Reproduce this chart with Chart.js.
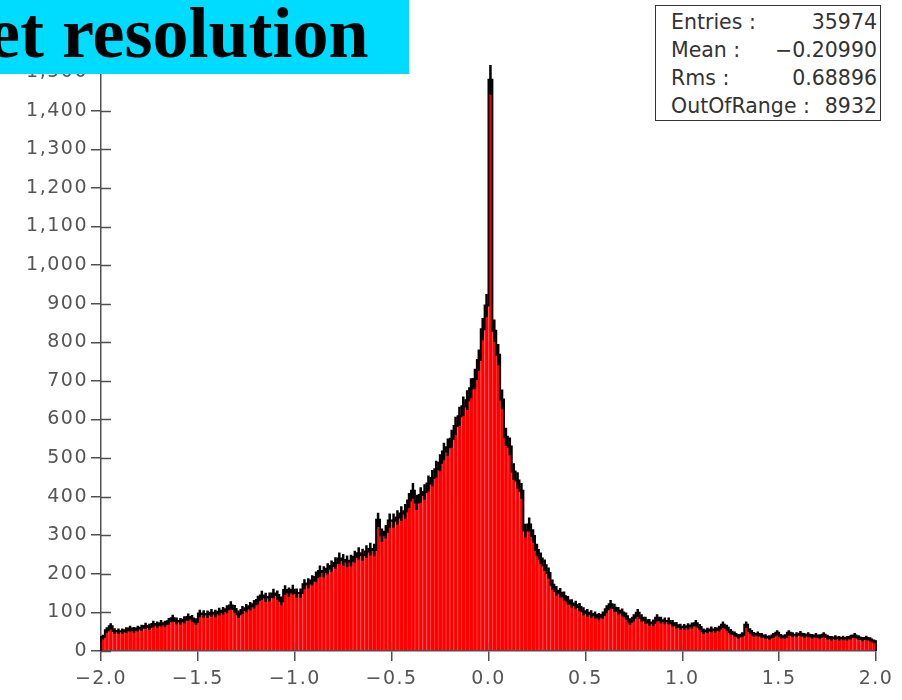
<!DOCTYPE html>
<html>
<head>
<meta charset="utf-8">
<script src="https://cdn.jsdelivr.net/npm/chart.js@4.4.1/dist/chart.umd.min.js"></script>
<style>
html, body { margin: 0; padding: 0; background: #fff; }
#wrap { position: relative; width: 902px; height: 700px; overflow: hidden; }
#title { position: absolute; left: 0; top: 0; width: 409px; height: 74px; background: #00dcff; overflow: hidden; }
#title span { position: absolute; left: -12px; top: -4px; font: bold 72px "Liberation Serif", serif; line-height: 74px; white-space: nowrap; color: #000; }
#stats { position: absolute; left: 655px; top: 5px; width: 224px; height: 114px; border: 1.5px solid #333; background: #fff;
         font: 20.5px "DejaVu Sans", sans-serif; color: #333; }
.row { position: absolute; left: 15px; right: 3px; height: 28px; line-height: 28px; display: flex; justify-content: space-between; }
</style>
</head>
<body>
<div id="wrap">
  <canvas id="hist" width="902" height="700"></canvas>
  <div id="title"><span>et resolution</span></div>
  <div id="stats"></div>
</div>
<script>
// histogram: 200 bins of 0.02 from -2.0 to 2.0
const binLow = -2.0;
const binWidth = 0.02;
const counts = [
  36, 54, 64, 52, 51, 51, 54, 58, 55, 58,
  60, 65, 63, 70, 68, 72, 70, 77, 85, 78,
  77, 81, 88, 84, 76, 97, 96, 95, 99, 97,
  102, 104, 108, 118, 109, 95, 106, 111, 116, 121,
  132, 144, 139, 140, 149, 145, 130, 158, 152, 159,
  150, 150, 173, 175, 183, 192, 207, 205, 213, 220,
  228, 240, 236, 232, 234, 244, 253, 249, 258, 264,
  262, 340, 300, 309, 338, 338, 346, 356, 362, 390,
  415, 385, 404, 412, 434, 448, 471, 488, 517, 528,
  550, 583, 608, 634, 650, 681, 705, 754, 834, 895,
  1480, 830, 768, 652, 555, 530, 465, 442, 415, 312,
  328, 298, 262, 240, 222, 202, 172, 156, 151, 142,
  131, 123, 119, 114, 103, 99, 96, 93, 89, 93,
  108, 121, 112, 104, 100, 90, 76, 86, 99, 86,
  80, 74, 73, 86, 80, 78, 78, 72, 67, 63,
  62, 64, 66, 72, 62, 51, 53, 56, 55, 58,
  68, 60, 50, 44, 38, 42, 68, 52, 43, 44,
  40, 37, 35, 40, 47, 38, 37, 47, 42, 42,
  45, 40, 42, 38, 40, 37, 42, 36, 33, 35,
  33, 34, 33, 36, 40, 35, 31, 34, 30, 25
];
const statLabels = ['Entries :', 'Mean :', 'Rms :', 'OutOfRange :'];
const statValues = ['35974', '\u22120.20990', '0.68896', '8932'];

const statsBox = document.getElementById('stats');
statLabels.forEach((lab, i) => {
  const r = document.createElement('div');
  r.className = 'row';
  r.style.top = (2 + i * 28) + 'px';
  const a = document.createElement('span'); a.textContent = lab;
  const b = document.createElement('span'); b.textContent = statValues[i];
  r.appendChild(a); r.appendChild(b);
  statsBox.appendChild(r);
});

const axisColor = '#505050';
const tickFont = { family: 'DejaVu Sans', size: 19 };

const spacing = {
  id: 'spacing',
  beforeDraw(chart) { chart.ctx.letterSpacing = '1.5px'; }
};

// black step outline + sqrt(N) error bars
const histOutline = {
  id: 'histOutline',
  afterDatasetsDraw(chart) {
    const { ctx, scales: { x, y } } = chart;
    ctx.save();
    ctx.strokeStyle = '#000';
    ctx.lineWidth = 2;
    ctx.beginPath();
    ctx.moveTo(x.getPixelForValue(binLow), y.getPixelForValue(0));
    counts.forEach((c, i) => {
      const lo = binLow + i * binWidth;
      ctx.lineTo(x.getPixelForValue(lo), y.getPixelForValue(c));
      ctx.lineTo(x.getPixelForValue(lo + binWidth), y.getPixelForValue(c));
    });
    ctx.lineTo(x.getPixelForValue(binLow + counts.length * binWidth), y.getPixelForValue(0));
    ctx.stroke();
    ctx.lineWidth = 2.5;
    ctx.beginPath();
    counts.forEach((c, i) => {
      const xc = x.getPixelForValue(binLow + (i + 0.5) * binWidth);
      const e = Math.sqrt(c);
      ctx.moveTo(xc, y.getPixelForValue(c - e));
      ctx.lineTo(xc, y.getPixelForValue(c + e));
    });
    ctx.stroke();
    ctx.restore();
  }
};

// tick marks also reach into the plot
const innerTicks = {
  id: 'innerTicks',
  afterDraw(chart) {
    const { ctx, scales: { x, y } } = chart;
    ctx.save();
    ctx.strokeStyle = axisColor;
    ctx.lineWidth = 1.5;
    ctx.beginPath();
    y.ticks.forEach(t => {
      const py = Math.round(y.getPixelForValue(t.value)) + 0.5;
      ctx.moveTo(x.left, py); ctx.lineTo(x.left + 10, py);
    });
    ctx.stroke();
    ctx.strokeStyle = 'rgba(80,80,80,0.35)';
    ctx.beginPath();
    x.ticks.forEach(t => {
      const px = x.getPixelForValue(t.value);
      ctx.moveTo(px, y.bottom); ctx.lineTo(px, y.bottom - 9);
    });
    ctx.stroke();
    ctx.restore();
  }
};

new Chart(document.getElementById('hist'), {
  type: 'bar',
  data: {
    datasets: [{
      data: counts.map((c, i) => ({ x: binLow + (i + 0.5) * binWidth, y: c })),
      backgroundColor: '#ff0000',
      borderColor: '#ff3c3c',
      borderWidth: { left: 1, right: 0, top: 0, bottom: 0 },
      borderSkipped: false,
      barPercentage: 1,
      categoryPercentage: 1
    }]
  },
  options: {
    responsive: false,
    animation: false,
    layout: { padding: { left: 0, right: 26, top: 49, bottom: 0 } },
    plugins: { legend: { display: false }, tooltip: { enabled: false } },
    scales: {
      x: {
        type: 'linear', min: -2, max: 2, offset: false,
        ticks: {
          stepSize: 0.5, color: '#555', font: tickFont, padding: 7, maxRotation: 0,
          callback: v => Number(v).toFixed(1).replace('-', '\u2212')
        },
        grid: { offset: false, drawOnChartArea: false, tickLength: 10, color: axisColor, lineWidth: 1.5 },
        border: { color: axisColor, width: 1.5 },
        afterFit(s) { s.height = 49; }
      },
      y: {
        min: 0, max: 1560,
        ticks: {
          stepSize: 100, color: '#555', font: tickFont, padding: 3,
          callback: v => v.toLocaleString('en-US')
        },
        afterBuildTicks(s) { s.ticks = s.ticks.filter(t => t.value % 100 === 0); },
        grid: { drawOnChartArea: false, tickLength: 10, color: axisColor, lineWidth: 1.5 },
        border: { color: axisColor, width: 1.5 },
        afterFit(s) { s.width = 101; }
      }
    }
  },
  plugins: [spacing, histOutline, innerTicks]
});
</script>
</body>
</html>
